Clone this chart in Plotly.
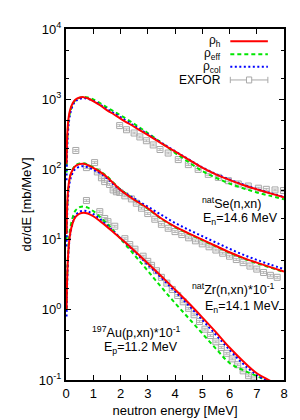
import plotly.graph_objects as go

# ---------------- data ----------------
E_curve = [0.02, 0.05, 0.1, 0.15, 0.25, 0.35, 0.5, 0.65, 0.8, 1.0, 1.25, 1.5, 1.75,
           2.0, 2.5, 3.0, 3.5, 4.0, 4.5, 5.0, 5.5, 6.0, 6.5, 7.0, 7.5, 8.0]

se_h = [120, 330, 560, 700, 880, 990, 1055, 1070, 1030, 940, 820, 700, 610,
        530, 405, 310, 235, 180, 138, 106, 85, 71, 60, 52, 45.5, 40]
se_eff = [90, 280, 500, 650, 850, 970, 1045, 1075, 1060, 990, 880, 765, 670,
          590, 445, 330, 240, 172, 127, 95, 76, 63, 54, 47, 42, 37.5]
se_col = [70, 230, 450, 610, 820, 940, 1010, 1040, 1010, 950, 840, 725, 635,
          555, 420, 318, 240, 182, 139, 107, 86, 72, 61, 52.5, 46, 40.5]

zr_h = [12, 35, 62, 80, 100, 112, 119, 120, 115, 105, 92, 78, 63,
        51, 37, 28, 20, 15.3, 12.3, 10.0, 8.1, 6.6, 5.5, 4.7, 4.05, 3.5]
zr_eff = [10, 32, 60, 80, 101, 114, 121, 122, 117, 107, 94, 80, 64,
          52, 37.5, 27.5, 19.8, 15.1, 12.1, 9.8, 8.0, 6.5, 5.4, 4.6, 4.0, 3.45]
zr_col = [8, 28, 52, 70, 90, 102, 109, 111, 107, 99, 88, 75, 61,
          51, 38.5, 29.5, 22.5, 17.3, 13.8, 11.2, 9.1, 7.4, 6.1, 5.15, 4.4, 3.8]

au_h = [1.0, 3.5, 8, 12, 17.5, 21, 23.5, 24.2, 23.5, 21.5, 18.3, 15.3, 12.6,
        10.4, 7.0, 4.6, 3.0, 1.95, 1.25, 0.78, 0.48, 0.29, 0.185, 0.125, 0.097, 0.075]
au_eff = [1.0, 3.5, 9, 14, 21, 26, 29, 29.6, 28.5, 25.5, 21, 17, 13.3,
          10.3, 6.1, 3.6, 2.1, 1.25, 0.76, 0.46, 0.28, 0.175, 0.138, 0.114, 0.094, 0.08]
au_col = [0.8, 3, 7.5, 11.5, 17.5, 22, 25, 25.8, 25.2, 23, 19.5, 16, 13,
          10.5, 6.8, 4.4, 2.85, 1.83, 1.16, 0.72, 0.44, 0.27, 0.17, 0.118, 0.092, 0.072]

se_exp_E = [0.36, 1.97, 2.22, 2.5, 2.71, 2.95, 3.2, 3.45, 3.75, 4.12, 4.49, 4.85,
            5.22, 5.59, 5.96, 6.32, 6.69, 7.06, 7.35, 7.67, 7.98]
se_exp = [186, 421, 367, 330, 290, 256, 223, 192, 171, 138, 117, 100,
          85, 77, 69, 62, 58, 54, 52, 51, 50]

zr_exp_E = [0.75, 1.05, 1.15, 1.3, 1.42, 1.6, 1.73, 1.85, 1.97, 2.16, 2.4, 2.58,
            2.77, 3.0, 3.26, 3.5, 3.75, 4.0, 4.25, 4.5, 4.75, 5.0, 5.25, 5.5,
            5.75, 6.0, 6.25, 6.5, 6.75, 7.0, 7.25, 7.5, 7.75]
zr_exp = [106, 125, 92, 76, 67, 61, 51, 48, 47, 42, 38, 33,
          28, 23.5, 19.5, 16.5, 14.5, 13, 11.8, 10.6, 9.6, 8.7, 7.9, 7.1,
          6.4, 5.8, 5.2, 4.7, 4.2, 3.8, 3.4, 3.1, 2.9]

au_exp_E = [0.75, 1.24, 1.42, 1.54, 1.79, 2.16, 2.34, 2.53, 2.83, 3.0, 3.14, 3.32,
            3.5, 3.7, 3.9, 4.1, 4.3, 4.5, 4.7, 4.9, 5.1, 5.3, 5.5, 5.7, 5.9,
            6.1, 6.3, 6.5, 6.7, 6.9]
au_exp = [36, 25, 20, 18, 15.5, 10.3, 8.5, 7.3, 5.8, 4.9, 4.3, 3.6,
          2.9, 2.4, 1.95, 1.6, 1.3, 1.05, 0.85, 0.68, 0.53, 0.43, 0.35, 0.29, 0.24,
          0.2, 0.165, 0.135, 0.115, 0.1]

y_tickvals = [0.1, 1, 10, 100, 1000, 10000]
y_ticktext = ["10<sup>-1</sup>", "10<sup>0</sup>", "10<sup>1</sup>",
              "10<sup>2</sup>", "10<sup>3</sup>", "10<sup>4</sup>"]
y_minor = [0.2, 0.5, 2, 5, 20, 50, 200, 500, 2000, 5000]
x_tickvals = [0, 1, 2, 3, 4, 5, 6, 7, 8]

legend_labels = ["\u03c1<sub>h</sub>", "\u03c1<sub>eff</sub>", "\u03c1<sub>col</sub>", "EXFOR"]

# ---------------- styles ----------------
RED = "#ff0000"
GREEN = "#00e600"
BLUE = "#0000ff"
GRAY = "#a8a8a8"
FONT = "Liberation Sans, Arial, sans-serif"

fig = go.Figure()

# EXFOR first (drawn beneath curves)
for ex, ey in [(se_exp_E, se_exp), (zr_exp_E, zr_exp), (au_exp_E, au_exp)]:
    fig.add_trace(go.Scatter(
        x=ex, y=ey, mode="markers",
        marker=dict(symbol="square-open", size=6, color=GRAY, line=dict(width=1, color=GRAY)),
        error_y=dict(type="percent", value=3, color=GRAY, thickness=0.8, width=2.5),
        showlegend=False, hoverinfo="skip"))

for yh, ye, yc in [(se_h, se_eff, se_col), (zr_h, zr_eff, zr_col), (au_h, au_eff, au_col)]:
    fig.add_trace(go.Scatter(x=E_curve, y=ye, mode="lines", line=dict(color=GREEN, width=2, dash="4px,3px", shape="spline"),
                             showlegend=False, hoverinfo="skip"))
    fig.add_trace(go.Scatter(x=E_curve, y=yc, mode="lines", line=dict(color=BLUE, width=2, dash="2px,2.5px", shape="spline"),
                             showlegend=False, hoverinfo="skip"))
    fig.add_trace(go.Scatter(x=E_curve, y=yh, mode="lines", line=dict(color=RED, width=2, shape="spline"),
                             showlegend=False, hoverinfo="skip"))

# ---------------- manual legend (gnuplot style: text left of sample) ----------------
leg_y = [0.9654, 0.9281, 0.8921, 0.8548]
leg_styles = [dict(color=RED, width=2), dict(color=GREEN, width=2, dash="4px,3px"),
              dict(color=BLUE, width=2, dash="2px,2.5px"), dict(color=GRAY, width=1)]
x0, x1, xt = 0.7537, 0.926, 0.7215
shapes = []
annotations = []
for lab, yy, st in zip(legend_labels, leg_y, leg_styles):
    annotations.append(dict(x=xt, y=yy, xref="paper", yref="paper", text=lab, showarrow=False,
                            xanchor="right", yanchor="middle", font=dict(size=12, family=FONT, color="black")))
    shapes.append(dict(type="line", xref="paper", yref="paper", x0=x0, x1=x1, y0=yy, y1=yy, line=st))
# error-bar caps and square for EXFOR sample
yy = leg_y[3]
for xc in (x0, x1):
    shapes.append(dict(type="line", xref="paper", yref="paper", x0=xc, x1=xc, y0=yy - 0.009, y1=yy + 0.009,
                       line=dict(color=GRAY, width=1)))
xm = (x0 + x1) / 2
shapes.append(dict(type="rect", xref="paper", yref="paper", x0=xm - 0.012, x1=xm + 0.012,
                   y0=yy - 0.0085, y1=yy + 0.0085, line=dict(color=GRAY, width=1), fillcolor="white"))

# reaction labels
lab_font = dict(size=12.5, family=FONT, color="black")
for txt, x, y in [("<sup>nat</sup>Se(n,xn)", 0.7597, 0.5035),
                  ("E<sub>n</sub>=14.6 MeV", 0.7996, 0.459),
                  ("<sup>nat</sup>Zr(n,xn)*10<sup>-1</sup>", 0.767, 0.26),
                  ("E<sub>n</sub>=14.1 MeV", 0.809, 0.208),
                  ("<sup>197</sup>Au(p,xn)*10<sup>-1</sup>", 0.3217, 0.1355),
                  ("E<sub>p</sub>=11.2 MeV", 0.342, 0.0913)]:
    annotations.append(dict(x=x, y=y, xref="paper", yref="paper", text=txt, showarrow=False,
                            xanchor="center", yanchor="middle", font=lab_font))

fig.update_layout(
    width=300, height=420, autosize=False,
    margin=dict(l=58, r=24, t=15, b=43, pad=0),
    paper_bgcolor="white", plot_bgcolor="white",
    font=dict(family=FONT, size=13, color="black"),
    shapes=shapes, annotations=annotations, showlegend=False,
    xaxis=dict(range=[0, 8], tickvals=x_tickvals, ticks="inside", ticklen=5, tickwidth=1,
               tickcolor="black", showline=True, linewidth=2, linecolor="black", mirror="ticks",
               showgrid=False, zeroline=False,
               title=dict(text="neutron energy [MeV]", font=dict(size=13), standoff=6),
               tickfont=dict(size=13)),
    yaxis=dict(type="log", range=[-1, 4], tickvals=y_tickvals, ticktext=y_ticktext,
               ticks="inside", ticklen=5, tickwidth=1, tickcolor="black",
               minor=dict(tickvals=y_minor, ticks="inside", ticklen=3, tickcolor="black", tickwidth=1, showgrid=False),
               showline=True, linewidth=2, linecolor="black", mirror="ticks",
               showgrid=False, zeroline=False,
               title=dict(text="d\u03c3/dE [mb/MeV]", font=dict(size=13), standoff=4),
               tickfont=dict(size=13)),
)

fig.write_html("out.html")
